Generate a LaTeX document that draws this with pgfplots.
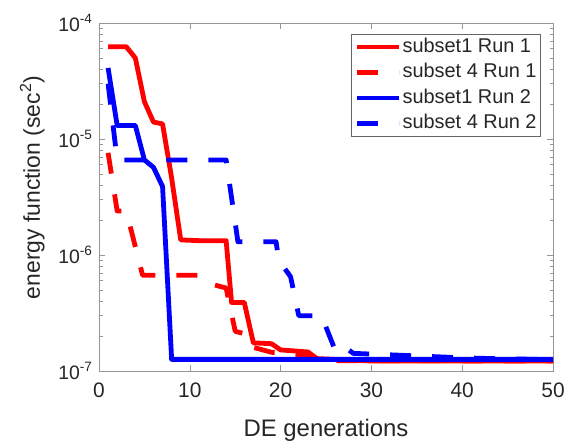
\documentclass[border=0pt]{standalone}
\usepackage{fontspec}
\setmainfont{Liberation Sans}
\usepackage{pgfplots}
\pgfplotsset{compat=1.18}
\usetikzlibrary{calc}

\definecolor{mred}{RGB}{255,0,0}
\definecolor{mblue}{RGB}{0,0,255}
\definecolor{axgray}{RGB}{150,150,150}
\definecolor{txt}{RGB}{38,38,38}

\begin{document}
\begin{tikzpicture}
\begin{axis}[
    scale only axis,
    width=454bp, height=348bp,
    xmin=0, xmax=50,
    ymode=log, ymin=1e-7, ymax=1e-4,
    xtick={0,10,20,30,40,50},
    ytick={1e-7,1e-6,1e-5,1e-4},
    yticklabels={10\textsuperscript{-7},10\textsuperscript{-6},10\textsuperscript{-5},10\textsuperscript{-4}},
    minor ytick={2e-7,3e-7,4e-7,5e-7,6e-7,7e-7,8e-7,9e-7,
                 2e-6,3e-6,4e-6,5e-6,6e-6,7e-6,8e-6,9e-6,
                 2e-5,3e-5,4e-5,5e-5,6e-5,7e-5,8e-5,9e-5},
    tick pos=both,
    tick align=inside,
    major tick length=6bp,
    minor tick length=3.5bp,
    every tick/.style={axgray, line width=0.6bp},
    axis line style={axgray, line width=0.8bp},
    /pgf/number format/assume math mode=true,
    xticklabel style={font=\fontsize{21}{25}\selectfont, text=txt, yshift=-8bp},
    yticklabel style={font=\fontsize{19.5}{23}\selectfont, text=txt, xshift=-3bp},
    xlabel={DE generations},
    ylabel={energy function (sec\textsuperscript{2})},
    every axis x label/.style={at={(rel axis cs:0.5,0)}, yshift=-65.7bp, anchor=base,
        font=\fontsize{24}{28}\selectfont, text=txt},
    every axis y label/.style={at={(rel axis cs:0,0.5)}, xshift=-59bp, yshift=9.5bp,
        rotate=90, anchor=base, font=\fontsize{23}{27}\selectfont, text=txt},
    legend cell align=left,
    legend style={at={(rel axis cs:1,1)}, xshift=-12bp, yshift=-11bp, anchor=north east,
        draw=black!60, line width=0.8bp, fill=white,
        font=\fontsize{20}{24}\selectfont, text=txt,
        inner xsep=3bp, inner ysep=2bp, row sep=4.5bp,
        nodes={inner sep=1bp, text height=15bp, text depth=4bp}},
    /tikz/every even column/.append style={column sep=4bp},
    legend image code/.code={\draw[#1] (0bp,0bp) -- (42bp,0bp);},
    every axis plot/.append style={line width=4.8bp, line join=round},
]

\addplot[mred] coordinates {
    (1,6.25e-5) (3,6.25e-5) (4,5.0e-5) (5,2.1e-5) (6,1.4e-5) (7,1.35e-5)
    (8,4.6e-6) (9,1.35e-6) (11,1.33e-6) (14,1.33e-6) (14.6,3.9e-7) (16,3.9e-7)
    (17,1.75e-7) (19,1.72e-7) (20,1.52e-7) (21,1.5e-7) (23,1.46e-7)
    (24,1.28e-7) (30,1.22e-7) (50,1.22e-7)
};
\addplot[mred, dash pattern=on 21bp off 21bp] coordinates {
    (1,7.6e-6) (2,2.4e-6) (3,2.4e-6) (4.8,6.7e-7) (11,6.7e-7) (12,5.7e-7)
    (14,5.2e-7) (15,2.2e-7) (16.5,2.05e-7) (17,1.6e-7) (19,1.45e-7)
    (21,1.42e-7) (23,1.35e-7) (24,1.23e-7) (50,1.22e-7)
};
\addplot[mblue] coordinates {
    (1,4.1e-5) (2,1.31e-5) (4,1.31e-5) (5,6.6e-6) (6,5.7e-6) (7,3.9e-6)
    (8,1.26e-7) (50,1.26e-7)
};
\addplot[mblue, dash pattern=on 21bp off 21bp] coordinates {
    (1,3.0e-5) (2,6.6e-6) (14,6.6e-6) (15.3,1.3e-6) (19.5,1.3e-6) (19.8,9.0e-7)
    (21.1,6.5e-7) (22,3.0e-7) (24.5,3.0e-7) (26.1,1.45e-7) (27,1.42e-7)
    (27.5,1.52e-7) (28,1.42e-7) (32,1.38e-7) (40,1.3e-7) (45,1.27e-7) (50,1.26e-7)
};
\legend{subset1 Run 1, subset 4 Run 1, subset1 Run 2, subset 4 Run 2}

\coordinate (bl) at (rel axis cs:0,0);
\coordinate (tr) at (rel axis cs:1,1);
\end{axis}
\pgfresetboundingbox
\path ($(bl)+(-99bp,-72bp)$) rectangle ($(tr)+(14bp,23bp)$);
\end{tikzpicture}
\end{document}
